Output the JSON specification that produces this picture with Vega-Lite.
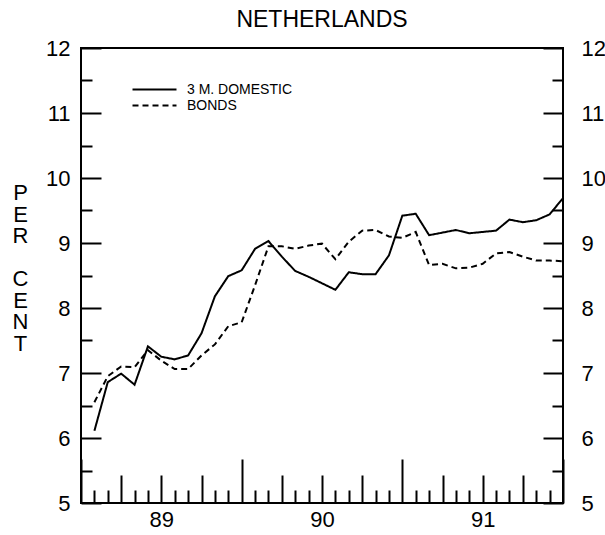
{
  "$schema": "https://vega.github.io/schema/vega-lite/v6.json",
  "width": 482,
  "height": 455,
  "autosize": "none",
  "padding": {"left": 81, "top": 48, "right": 42, "bottom": 32},
  "background": "white",
  "config": {
    "view": {"stroke": "black", "strokeWidth": 2},
    "font": "Liberation Sans"
  },
  "title": {
    "text": "NETHERLANDS",
    "fontSize": 23,
    "fontWeight": "normal",
    "font": "Liberation Sans",
    "color": "black",
    "offset": -13,
    "baseline": "alphabetic",
    "anchor": "middle",
    "frame": "group"
  },
  "data": {
    "values": [
      {"month": 1, "series": "3 M. DOMESTIC", "rate": 6.11},
      {"month": 2, "series": "3 M. DOMESTIC", "rate": 6.86},
      {"month": 3, "series": "3 M. DOMESTIC", "rate": 6.99},
      {"month": 4, "series": "3 M. DOMESTIC", "rate": 6.82},
      {"month": 5, "series": "3 M. DOMESTIC", "rate": 7.41},
      {"month": 6, "series": "3 M. DOMESTIC", "rate": 7.25},
      {"month": 7, "series": "3 M. DOMESTIC", "rate": 7.21},
      {"month": 8, "series": "3 M. DOMESTIC", "rate": 7.27},
      {"month": 9, "series": "3 M. DOMESTIC", "rate": 7.61},
      {"month": 10, "series": "3 M. DOMESTIC", "rate": 8.18},
      {"month": 11, "series": "3 M. DOMESTIC", "rate": 8.49},
      {"month": 12, "series": "3 M. DOMESTIC", "rate": 8.58},
      {"month": 13, "series": "3 M. DOMESTIC", "rate": 8.91},
      {"month": 14, "series": "3 M. DOMESTIC", "rate": 9.03},
      {"month": 15, "series": "3 M. DOMESTIC", "rate": 8.79},
      {"month": 16, "series": "3 M. DOMESTIC", "rate": 8.57},
      {"month": 17, "series": "3 M. DOMESTIC", "rate": 8.48},
      {"month": 18, "series": "3 M. DOMESTIC", "rate": 8.38},
      {"month": 19, "series": "3 M. DOMESTIC", "rate": 8.28},
      {"month": 20, "series": "3 M. DOMESTIC", "rate": 8.55},
      {"month": 21, "series": "3 M. DOMESTIC", "rate": 8.52},
      {"month": 22, "series": "3 M. DOMESTIC", "rate": 8.52},
      {"month": 23, "series": "3 M. DOMESTIC", "rate": 8.81},
      {"month": 24, "series": "3 M. DOMESTIC", "rate": 9.42},
      {"month": 25, "series": "3 M. DOMESTIC", "rate": 9.45},
      {"month": 26, "series": "3 M. DOMESTIC", "rate": 9.12},
      {"month": 27, "series": "3 M. DOMESTIC", "rate": 9.16},
      {"month": 28, "series": "3 M. DOMESTIC", "rate": 9.20},
      {"month": 29, "series": "3 M. DOMESTIC", "rate": 9.15},
      {"month": 30, "series": "3 M. DOMESTIC", "rate": 9.17},
      {"month": 31, "series": "3 M. DOMESTIC", "rate": 9.19},
      {"month": 32, "series": "3 M. DOMESTIC", "rate": 9.36},
      {"month": 33, "series": "3 M. DOMESTIC", "rate": 9.32},
      {"month": 34, "series": "3 M. DOMESTIC", "rate": 9.35},
      {"month": 35, "series": "3 M. DOMESTIC", "rate": 9.44},
      {"month": 36, "series": "3 M. DOMESTIC", "rate": 9.69},
      {"month": 1, "series": "BONDS", "rate": 6.55},
      {"month": 2, "series": "BONDS", "rate": 6.95},
      {"month": 3, "series": "BONDS", "rate": 7.10},
      {"month": 4, "series": "BONDS", "rate": 7.09},
      {"month": 5, "series": "BONDS", "rate": 7.35},
      {"month": 6, "series": "BONDS", "rate": 7.19},
      {"month": 7, "series": "BONDS", "rate": 7.06},
      {"month": 8, "series": "BONDS", "rate": 7.06},
      {"month": 9, "series": "BONDS", "rate": 7.27},
      {"month": 10, "series": "BONDS", "rate": 7.44},
      {"month": 11, "series": "BONDS", "rate": 7.72},
      {"month": 12, "series": "BONDS", "rate": 7.78},
      {"month": 13, "series": "BONDS", "rate": 8.35},
      {"month": 14, "series": "BONDS", "rate": 8.95},
      {"month": 15, "series": "BONDS", "rate": 8.95},
      {"month": 16, "series": "BONDS", "rate": 8.91},
      {"month": 17, "series": "BONDS", "rate": 8.96},
      {"month": 18, "series": "BONDS", "rate": 8.99},
      {"month": 19, "series": "BONDS", "rate": 8.75},
      {"month": 20, "series": "BONDS", "rate": 9.02},
      {"month": 21, "series": "BONDS", "rate": 9.19},
      {"month": 22, "series": "BONDS", "rate": 9.20},
      {"month": 23, "series": "BONDS", "rate": 9.10},
      {"month": 24, "series": "BONDS", "rate": 9.08},
      {"month": 25, "series": "BONDS", "rate": 9.17},
      {"month": 26, "series": "BONDS", "rate": 8.66},
      {"month": 27, "series": "BONDS", "rate": 8.68},
      {"month": 28, "series": "BONDS", "rate": 8.61},
      {"month": 29, "series": "BONDS", "rate": 8.62},
      {"month": 30, "series": "BONDS", "rate": 8.68},
      {"month": 31, "series": "BONDS", "rate": 8.84},
      {"month": 32, "series": "BONDS", "rate": 8.86},
      {"month": 33, "series": "BONDS", "rate": 8.79},
      {"month": 34, "series": "BONDS", "rate": 8.73},
      {"month": 35, "series": "BONDS", "rate": 8.73},
      {"month": 36, "series": "BONDS", "rate": 8.72}
    ]
  },
  "layer": [
    {
      "mark": {"type": "line", "color": "black", "strokeWidth": 2},
      "encoding": {
        "x": {
          "field": "month",
          "type": "quantitative",
          "scale": {"domain": [0, 36], "nice": false, "zero": false},
          "axis": {
            "orient": "bottom",
            "title": null,
            "grid": false,
            "domain": false,
            "values": [0,1,2,3,4,5,6,7,8,9,10,11,12,13,14,15,16,17,18,19,20,21,22,23,24,25,26,27,28,29,30,31,32,33,34,35,36],
            "labelExpr": "datum.value === 6 ? '89' : datum.value === 18 ? '90' : datum.value === 30 ? '91' : ''",
            "tickSize": {
              "condition": [
                {"test": "datum.value % 12 === 0", "value": -44},
                {"test": "datum.value % 3 === 0", "value": -28}
              ],
              "value": -13
            },
            "tickWidth": 2,
            "tickColor": "black",
            "labelFontSize": 22,
            "labelColor": "black",
            "labelPadding": 34,
            "labelBaseline": "top",
            "labelFlush": false,
            "labelOverlap": false
          }
        },
        "y": {
          "field": "rate",
          "type": "quantitative",
          "scale": {"domain": [5, 12], "nice": false, "zero": false},
          "axis": {
            "orient": "left",
            "grid": false,
            "domain": false,
            "values": [5,5.5,6,6.5,7,7.5,8,8.5,9,9.5,10,10.5,11,11.5,12],
            "labelExpr": "datum.value % 1 === 0 ? format(datum.value, 'd') : ''",
            "tickSize": {"condition": {"test": "datum.value % 1 === 0", "value": -20}, "value": -11},
            "tickWidth": 2,
            "tickColor": "black",
            "labelFontSize": 22,
            "labelColor": "black",
            "labelPadding": 31,
            "labelFlush": false,
            "labelOverlap": false,
            "title": ["P", "E", "R", "\u2800", "C", "E", "N", "T"],
            "titleAngle": 0,
            "titleFontSize": 22,
            "titleFontWeight": "normal",
            "titleColor": "black",
            "titleLineHeight": 21.5,
            "titleX": -61,
            "titleY": 144.5,
            "titleAlign": "center",
            "titleBaseline": "middle"
          }
        },
        "strokeDash": {
          "field": "series",
          "type": "nominal",
          "scale": {"domain": ["3 M. DOMESTIC", "BONDS"], "range": [[1, 0], [6, 4]]},
          "legend": {
            "orient": "none",
            "legendX": 65,
            "legendY": 33,
            "title": null,
            "symbolType": "M-3,0H3",
            "symbolSize": 215,
            "symbolStrokeWidth": 2,
            "symbolStrokeColor": "black",
            "symbolFillColor": "transparent",
            "labelFontSize": 14,
            "labelColor": "black",
            "labelOffset": 24,
            "rowPadding": 0,
            "padding": 0
          }
        }
      }
    },
    {
      "mark": {"type": "point", "opacity": 0, "size": 0},
      "encoding": {
        "y": {
          "field": "rate",
          "type": "quantitative",
          "axis": {
            "orient": "right",
            "grid": false,
            "domain": false,
            "title": null,
            "values": [5,5.5,6,6.5,7,7.5,8,8.5,9,9.5,10,10.5,11,11.5,12],
            "labelExpr": "datum.value % 1 === 0 ? format(datum.value, 'd') : ''",
            "tickSize": {"condition": {"test": "datum.value % 1 === 0", "value": -20}, "value": -11},
            "tickWidth": 2,
            "tickColor": "black",
            "labelFontSize": 22,
            "labelColor": "black",
            "labelPadding": 38,
            "labelAlign": "left",
            "labelFlush": false,
            "labelOverlap": false
          }
        }
      }
    }
  ],
  "resolve": {"axis": {"y": "independent"}}
}
